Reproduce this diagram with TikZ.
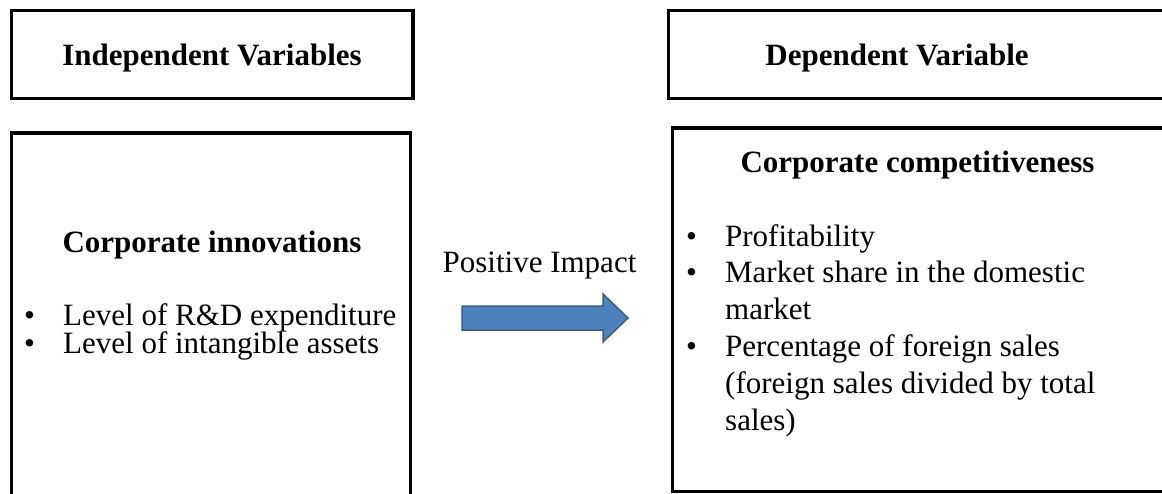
\documentclass[tikz,border=0pt]{standalone}
\usepackage{fontspec}
\setmainfont{Liberation Serif}
\usetikzlibrary{positioning}
\definecolor{arrowblue}{HTML}{4F81BD}
\definecolor{arrowedge}{HTML}{385D8A}
\newcommand{\bul}{\makebox[39pt][l]{\textbullet}}
\newcommand{\ind}{\hspace*{39pt}}
\tikzset{
  box/.style={draw, line width=3.3pt, inner sep=0pt},
  txt/.style={inner sep=0pt, font=\fontsize{31}{36}\selectfont},
  hd/.style={txt, font=\fontsize{31}{36}\selectfont\bfseries, anchor=base},
  itm/.style={txt, anchor=base west},
}

\begin{document}
\begin{tikzpicture}[x=1pt,y=-1pt]
    \useasboundingbox (0,0) rectangle (1162,493);
    \clip (0,0) rectangle (1162,493);
    % frames
    \node[box, minimum width=401.7pt, minimum height=87.6pt] (ivbox) at (212.2,54.5) {};
    \node[box, minimum width=511.7pt, minimum height=87.6pt] (dvbox) at (924.2,54.5) {};
    \node[box, minimum width=399.2pt, minimum height=387pt] (inbox) at (210.9,326.5) {};
    \node[box, minimum width=507.3pt, minimum height=363.3pt] (cpbox) at (926.4,309.7) {};
    % headings
    \node[hd] (iv) at (212,65) {Independent Variables};
    \node[hd] (dv) at (897,65) {Dependent Variable};
    \node[hd] (in) at (212,252) {Corporate innovations};
    \node[hd] (cp) at (917.5,172) {Corporate competitiveness};
    % left list
    \node[itm] (in1) at (24,325) {\bul Level of R\&D expenditure};
    \node[itm] (in2) at (24,353) {\bul Level of intangible assets};
    % right list
    \node[itm] (cp1) at (686,246) {\bul Profitability};
    \node[itm] (cp2) at (686,282) {\bul Market share in the domestic};
    \node[itm] (cp3) at (686,319) {\ind market};
    \node[itm] (cp4) at (686,356) {\bul Percentage of foreign sales};
    \node[itm] (cp5) at (686,393) {\ind (foreign sales divided by total};
    \node[itm] (cp6) at (686,430) {\ind sales)};
    % impact arrow
    \node[txt, anchor=base] (imp) at (539.5,272) {Positive Impact};
    \draw[arrowedge, fill=arrowblue, line width=1.5pt] (462,306) -- (603,306) -- (603,294) -- (628,318)
      -- (603,342) -- (603,330) -- (462,330) -- cycle;
\end{tikzpicture}
\end{document}
